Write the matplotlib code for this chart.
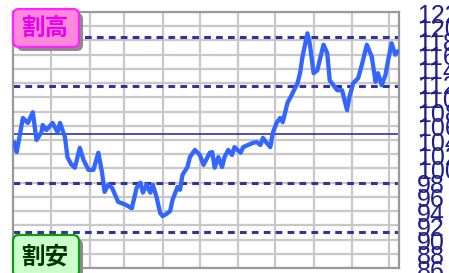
import matplotlib
matplotlib.use('Agg')
import matplotlib.pyplot as plt
import matplotlib.transforms as mtransforms
from matplotlib.patches import FancyBboxPatch

# Params definition
LINE_COLOR = '#3366ff'
LEVEL_COLOR = '#333399'
GRID_COLOR = '#c8c8c8'
LABEL_COLOR = '#1f1f8c'

# Day index from start of period and price values
days = [1, 3, 8, 12, 16, 19, 23, 24, 27, 32, 36, 38, 42, 44, 47, 50, 54, 57, 61, 65,
        69, 72, 74, 77, 80, 85, 91, 96, 100, 103, 105, 108, 111, 113, 116, 119, 121, 124, 127, 129,
        133, 135, 137, 141, 143, 147, 151, 154, 157, 159, 161, 163, 166, 169, 171, 174, 177, 179, 184, 186,
        190, 194, 197, 200, 202, 205, 208, 210, 213, 216, 218, 222, 224, 226, 230, 232, 234, 238, 240, 243,
        246, 248, 251, 254, 256, 259, 262, 266, 270, 272, 275, 279, 282, 286, 290, 293, 295, 298, 301, 303,
        306, 309, 311]
price = [103.6, 102.3, 107.1, 106.4, 107.9, 104.0, 105.1, 106.1, 105.4, 106.4, 105.1, 106.4, 104.4, 101.6, 100.6, 100.1, 102.9, 101.2, 99.8, 99.8,
         102.2, 99.4, 96.7, 97.7, 97.3, 95.3, 94.9, 94.4, 97.3, 98.0, 96.6, 97.7, 96.6, 97.7, 96.0, 93.7, 93.3, 93.6, 94.0, 95.6,
         97.4, 97.0, 99.1, 100.2, 101.6, 102.6, 101.9, 100.5, 101.5, 102.2, 102.3, 100.1, 101.6, 100.2, 101.6, 102.6, 101.9, 103.0, 102.2, 103.0,
         103.3, 103.6, 103.7, 103.3, 104.3, 103.6, 103.0, 105.0, 106.4, 107.1, 106.5, 109.3, 109.9, 110.6, 112.0, 113.4, 115.7, 119.0, 117.4, 113.4,
         113.8, 115.3, 117.4, 116.2, 112.4, 111.7, 111.0, 111.0, 108.2, 110.1, 112.0, 112.7, 114.6, 117.4, 115.7, 112.2, 113.4, 111.7, 113.1, 115.0,
         117.6, 116.0, 116.4]
month_starts = [31, 62, 90, 121, 151, 182, 212, 243, 274, 304]
band_levels = [118.5, 111.65, 97.95, 91.1]
mean_level = 104.8
tick_values = list(range(122, 85, -2))

fig = plt.figure(figsize=(4.49, 2.73), dpi=100)
ax = fig.add_axes([13 / 449, 5 / 273, 386 / 449, 256 / 273])
ax.set_xlim(0, 312)
ax.set_ylim(86, 122)

# grid
for d in month_starts:
    ax.axvline(d, color=GRID_COLOR, lw=1.6, zorder=1)
for v in tick_values:
    ax.axhline(v, color=GRID_COLOR, lw=1.6, zorder=1)

# levels
for lv in band_levels:
    ax.axhline(lv, color=LEVEL_COLOR, lw=2.2, ls=(0, (2.2, 1.7)), zorder=2)
ax.axhline(mean_level, color=LEVEL_COLOR, lw=1.2, zorder=2)

ax.plot(days, price, color=LINE_COLOR, lw=3.1, solid_joinstyle='round', zorder=3)

ax.set_xticks([])
ax.set_yticks([])
for s in ax.spines.values():
    s.set_color('#999999')
    s.set_linewidth(1.6)

# right side labels
trans = mtransforms.blended_transform_factory(ax.transAxes, ax.transData)
for v in tick_values:
    ax.text(1.047, v - 0.5, str(v), transform=trans, ha='left', va='center',
            fontsize=18, color=LABEL_COLOR, family='Liberation Sans', clip_on=False)

# label boxes (pixel coordinates)
def add_box(x0, y0, w, h, face, edge, text, tcolor):
    shadow = FancyBboxPatch((x0 + 4, y0 - 4), w, h, boxstyle='round,pad=0,rounding_size=6',
                            transform=None, facecolor='#8c8c8c', edgecolor='none', zorder=10)
    box = FancyBboxPatch((x0, y0), w, h, boxstyle='round,pad=0,rounding_size=6',
                         transform=None, facecolor=face, edgecolor=edge, lw=1.6, zorder=11)
    fig.patches.extend([shadow, box])
    fig.text((x0 + w / 2 - 1) / 449, (y0 + h / 2) / 273, text, ha='center', va='center',
             fontsize=17, fontweight='bold', color=tcolor, family=['Noto Sans CJK JP'], zorder=12)

add_box(13, 226, 66, 38, '#ff88dd', '#ff22ff', '割高', '#ee00ee')
add_box(13, -4, 66, 42, '#ccffcc', '#119911', '割安', '#003300')

fig.savefig('out.png', dpi=100)
